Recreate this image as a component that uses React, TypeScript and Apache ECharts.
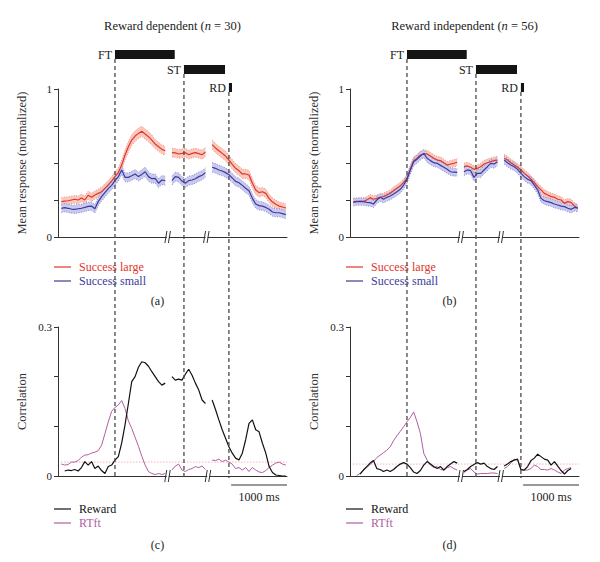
import React, { useEffect, useRef } from 'react';
import * as echarts from 'echarts';

// ---- data (time in ms from the start of each axis; 60 ms sampling; null = axis break) ----
const STEP_MS = 60;
const AXIS_MAX_MS = 4100;

const largeA = [0.239,0.243,0.245,0.25,0.255,0.25,0.264,0.25,0.282,0.268,
  0.284,0.295,0.306,0.329,0.351,0.378,0.408,0.435,0.486,0.554,
  0.61,0.655,0.682,0.7,0.714,0.696,0.678,0.655,0.628,0.61,
  0.592,0.583,null,0.57,0.568,0.561,0.565,0.57,0.556,0.565,
  0.57,0.563,0.556,0.574,null,0.624,0.601,0.583,0.565,0.547,
  0.52,0.491,0.464,0.448,0.426,0.426,0.419,0.363,0.318,0.3,
  0.306,0.295,0.261,0.236,0.221,0.209,0.203,0.196];
const smallA = [0.194,0.198,0.194,0.189,0.187,0.191,0.194,0.2,0.207,0.209,
  0.191,0.239,0.273,0.3,0.327,0.349,0.381,0.408,0.453,0.403,
  0.403,0.414,0.426,0.408,0.423,0.441,0.408,0.394,0.396,0.363,
  0.385,0.381,null,0.381,0.408,0.403,0.378,0.363,0.381,0.385,
  0.394,0.408,0.417,0.435,null,0.471,0.464,0.453,0.446,0.435,
  0.421,0.399,0.376,0.367,0.349,0.329,0.313,0.261,0.223,0.212,
  0.209,0.2,0.187,0.169,0.164,0.164,0.158,0.151];
const largeB = [0.239,0.241,0.243,0.241,0.25,0.266,0.255,0.261,0.268,0.273,
  0.284,0.295,0.313,0.329,0.345,0.367,0.396,0.457,0.516,0.532,
  0.554,0.561,0.561,0.547,0.532,0.52,0.516,0.502,0.486,0.493,
  0.498,0.505,null,0.475,0.48,0.471,0.457,0.464,0.475,0.493,
  0.502,0.509,0.516,0.52,null,0.532,0.52,0.502,0.486,0.471,
  0.453,0.43,0.412,0.39,0.367,0.34,0.318,0.295,0.284,0.273,
  0.268,0.255,0.25,0.227,0.239,0.232,0.209,0.194];
const smallB = [0.234,0.239,0.239,0.239,0.234,0.232,0.223,0.25,0.268,0.255,
  0.268,0.277,0.291,0.306,0.322,0.351,0.39,0.453,0.509,0.525,
  0.547,0.565,0.532,0.516,0.502,0.498,0.484,0.471,0.457,0.441,
  0.439,0.437,null,0.441,0.453,0.448,0.403,0.43,0.43,0.453,
  0.475,0.498,0.493,0.509,null,0.52,0.502,0.486,0.475,0.457,
  0.43,0.408,0.39,0.381,0.351,0.318,0.261,0.245,0.239,0.232,
  0.223,0.216,0.209,0.205,0.194,0.187,0.2,0.194];

// SEM, one value per 4 samples
const semLargeA = [0.026,0.026,0.027,0.03,0.032,0.035,0.034,0.03,0.029,0.029,0.03,0.031,0.032,0.031,0.03,0.028,0.027];
const semSmallA = [0.028,0.028,0.028,0.03,0.03,0.03,0.031,0.03,0.03,0.03,0.031,0.032,0.031,0.03,0.029,0.028,0.027];
const semLargeB = [0.022,0.022,0.023,0.024,0.025,0.025,0.024,0.024,0.024,0.024,0.025,0.025,0.025,0.024,0.024,0.023,0.022];
const semSmallB = [0.024,0.024,0.025,0.026,0.027,0.027,0.026,0.026,0.026,0.027,0.027,0.027,0.026,0.026,0.025,0.025,0.024];

const rewardC = [null,0.010,0.012,0.011,0.013,0.010,0.017,0.029,0.022,0.029,
  0.015,0.020,0.011,0.005,0.019,0.022,0.032,0.039,0.066,0.103,
  0.146,0.190,0.200,0.219,0.230,0.228,0.221,0.210,0.200,0.190,
  0.183,0.187,null,0.200,0.193,0.195,0.193,0.205,0.215,0.203,
  0.187,0.173,0.153,0.146,null,0.153,0.134,0.113,0.093,0.076,
  0.059,0.046,0.036,0.032,0.046,0.073,0.106,0.113,0.093,0.089,
  0.066,0.046,0.019,0.007,0.002,0.001,0,0];
const rtC = [0.024,0.022,0.023,0.028,0.028,0.031,0.038,0.042,0.043,0.046,
  0.048,0.051,0.062,0.085,0.109,0.130,0.138,0.143,0.152,0.136,
  0.111,0.096,0.078,0.060,0.040,0.022,0.009,0.005,0.003,0.005,
  0.003,0.005,null,0.012,0.020,0.024,0.012,0.009,0.013,0.015,
  0.019,0.017,0.020,0.013,null,0.032,0.031,0.034,0.029,0.032,
  0.028,0.024,0.015,0.017,0.012,0.017,0.009,0.017,0.012,0.008,
  0.007,0.011,0.017,0.022,0.026,0.028,0.024,0.022];
const rewardD = [null,null,0.004,0.012,0.019,0.026,0.031,0.015,0.013,0.009,
  0.012,0.009,0.013,0.019,0.024,0.027,0.024,0.017,0.008,0.005,
  0.011,0.022,0.029,0.024,0.019,0.015,0.019,0.012,0.019,0.024,
  0.029,0.026,null,0.009,0.013,0.019,0.023,0.027,0.024,0.026,
  0.019,0.015,0.013,0.019,null,0.020,0.024,0.029,0.032,0.034,
  0.013,0.012,0.019,0.031,0.036,0.044,0.039,0.034,0.032,0.022,
  0.029,0.020,0.011,0.004,0.011,0.015,null,null];
const rtD = [null,0.001,0.005,0.012,0.017,0.023,0.029,0.037,0.042,0.047,
  0.052,0.059,0.071,0.081,0.090,0.099,0.109,0.118,0.129,0.109,
  0.086,0.046,0.032,0.022,0.017,0.019,0.013,0.012,0.017,0.019,
  0.015,0.012,null,0.007,0.012,0.015,0.008,0.004,0.005,0.005,
  0.005,0.006,0.006,0.005,null,0.015,0.019,0.026,0.034,0.032,
  0.013,0.012,0.012,0.015,0.022,0.019,0.013,0.013,0.012,0.015,
  0.012,0.008,0.005,0.012,0.015,0.017,null,null];

const thresholdC = 0.028;
const thresholdD = 0.024;

const eventNames = ['FT', 'ST', 'RD'];
const eventStart = [1020, 2255, 3060];
const eventDur = [1070, 735, 55];
const breaksTop = [[1968, 2660], [1987, 2703]];
const breaksBottom = [[1965, 2690], [1987, 2703]];
const scaleBarStart = 3100;
const scaleBarMs = 1000;

// ---- styles ----
const SERIF = 'Liberation Serif';
const RED = '#e2352b';
const BLUE = '#3c3c98';
const PURPLE = '#b25ea3';
const BLACK = '#111111';
const RED_FILL = '#f9c9bd';
const RED_EDGE = '#f08a7a';
const BLUE_FILL = '#c9c9ef';
const BLUE_EDGE = '#8585d6';
const AXIS = '#333333';

const times = largeA.map((_, k) => STEP_MS * (k + 1));
const pairs = (vals: (number | null)[]) => vals.map((v, k) => [times[k], v == null ? '-' : v]);

function segments(vals: (number | null)[]) {
  const segs: number[][] = [];
  let cur: number[] = [];
  vals.forEach((v, k) => {
    if (v == null) { if (cur.length) segs.push(cur); cur = []; } else cur.push(k);
  });
  if (cur.length) segs.push(cur);
  return segs;
}

function band(id: string, vals: (number | null)[], sems: number[], g: number, fill: string, edge: string) {
  const segs = segments(vals);
  const sem = (k: number) => sems[Math.floor(k / 4)];
  return {
    type: 'custom', name: id, xAxisIndex: g, yAxisIndex: g, silent: true,
    data: segs.map((s) => [times[s[0]], vals[s[0]] as number]),
    renderItem: (params: any, api: any) => {
      const s = segs[params.dataIndex];
      const up = s.map((k) => api.coord([times[k], (vals[k] as number) + sem(k)]));
      const lo = s.map((k) => api.coord([times[k], (vals[k] as number) - sem(k)]));
      return {
        type: 'group',
        children: [
          { type: 'polygon', shape: { points: [...up, ...lo.slice().reverse()] }, style: { fill } },
          { type: 'polyline', shape: { points: up }, style: { stroke: edge, lineWidth: 1, lineDash: [1, 1.5], fill: null } },
          { type: 'polyline', shape: { points: lo }, style: { stroke: edge, lineWidth: 1, lineDash: [1, 1.5], fill: null } },
        ],
      };
    },
  };
}

function meanLine(name: string, vals: (number | null)[], g: number, color: string, width = 1.2) {
  return {
    type: 'line', name, xAxisIndex: g, yAxisIndex: g, symbol: 'none', silent: true,
    data: pairs(vals), lineStyle: { color, width }, itemStyle: { color },
  };
}

function thresholdLine(v: number, g: number) {
  return {
    type: 'line', name: 'thr' + g, xAxisIndex: g, yAxisIndex: g, symbol: 'none', silent: true,
    data: [[STEP_MS, v], [AXIS_MAX_MS, v]], lineStyle: { color: '#ee8f8f', width: 1, type: [1, 2] },
  };
}

const grids = [
  { left: 58, top: 89, width: 229, height: 148 },
  { left: 350, top: 89, width: 229, height: 148 },
  { left: 58, top: 327, width: 229, height: 149 },
  { left: 350, top: 327, width: 229, height: 149 },
];

function yAxis(g: number) {
  const top = g < 2;
  return {
    gridIndex: g, type: 'value', min: 0, max: top ? 1 : 0.3, interval: top ? 0.25 : 0.1,
    axisLine: { show: true, lineStyle: { color: AXIS, width: 1 } },
    axisTick: { show: true, length: 4, lineStyle: { color: AXIS } },
    splitLine: { show: false },
    axisLabel: {
      margin: 6, fontFamily: SERIF, fontSize: 11, color: '#222',
      formatter: (v: number) => {
        if (Math.abs(v) < 1e-9) return '0';
        if (top && Math.abs(v - 1) < 1e-9) return '1';
        if (!top && Math.abs(v - 0.3) < 1e-9) return '0.3';
        return '';
      },
    },
    name: top ? 'Mean response (normalized)' : 'Correlation',
    nameLocation: 'middle', nameGap: 30,
    nameTextStyle: { fontFamily: SERIF, fontSize: 12.5, color: '#333' },
  };
}

function xAxis(g: number) {
  return {
    gridIndex: g, type: 'value', min: 0, max: AXIS_MAX_MS,
    axisLine: { show: true, onZero: false, lineStyle: { color: AXIS, width: 1 } },
    axisTick: { show: false }, axisLabel: { show: false }, splitLine: { show: false },
  };
}

function legend(left: number, top: number, items: [string, string][]) {
  return {
    left, top, orient: 'vertical', icon: 'rect', itemWidth: 17, itemHeight: 1.2, itemGap: 2,
    padding: 0, selectedMode: false,
    itemStyle: { borderWidth: 0 },
    lineStyle: { width: 0 },
    textStyle: { fontFamily: SERIF, fontSize: 12, lineHeight: 12, padding: [0, 0, 0, 3] },
    data: items.map(([name, color]) => ({ name, textStyle: { color } })),
  };
}

const baseOption = {
  animation: false,
  grid: grids,
  xAxis: [0, 1, 2, 3].map(xAxis),
  yAxis: [0, 1, 2, 3].map(yAxis),
  legend: [
    legend(54, 261, [['Success large', RED], ['Success small', BLUE]]),
    legend(346, 261, [['Success large', RED], ['Success small', BLUE]]),
    legend(54, 503, [['Reward', BLACK], ['RTft', PURPLE]]),
    legend(346, 503, [['Reward', BLACK], ['RTft', PURPLE]]),
  ],
  series: [
    band('largeA', largeA, semLargeA, 0, RED_FILL, RED_EDGE),
    band('smallA', smallA, semSmallA, 0, BLUE_FILL, BLUE_EDGE),
    meanLine('Success large', largeA, 0, RED),
    meanLine('Success small', smallA, 0, BLUE),
    band('largeB', largeB, semLargeB, 1, RED_FILL, RED_EDGE),
    meanLine('Success large', largeB, 1, RED),
    band('smallB', smallB, semSmallB, 1, BLUE_FILL, BLUE_EDGE),
    meanLine('Success small', smallB, 1, BLUE),
    thresholdLine(thresholdC, 2),
    meanLine('RTft', rtC, 2, PURPLE, 1),
    meanLine('Reward', rewardC, 2, BLACK, 1.2),
    thresholdLine(thresholdD, 3),
    meanLine('RTft', rtD, 3, PURPLE, 1),
    meanLine('Reward', rewardD, 3, BLACK, 1.2),
  ],
};

const BAR_TOP = [50, 65, 83];
const BAR_H = 9;

export default function App() {
  const ref = useRef<HTMLDivElement>(null);
  useEffect(() => {
    const chart = echarts.init(ref.current!, null, { renderer: 'svg' });
    chart.setOption(baseOption as any);
    const px = (g: number, t: number, v: number) => chart.convertToPixel({ gridIndex: g }, [t, v]) as number[];
    const gfx: any[] = [];
    const font = (s: number) => `${s}px "${SERIF}"`;

    const titles = [['Reward dependent (', '30)'], ['Reward independent (', '56)']];
    [[0, 2], [1, 3]].forEach(([gt, gb], col) => {
      const cx = (px(gt, 0, 0)[0] + px(gt, AXIS_MAX_MS, 0)[0]) / 2;
      gfx.push({
        type: 'text', x: cx, y: 26,
        style: {
          text: `{a|${titles[col][0]}}{i|n}{a| = ${titles[col][1]}}`,
          align: 'center', verticalAlign: 'middle',
          rich: {
            a: { fontFamily: SERIF, fontSize: 12.5, fill: '#222' },
            i: { fontFamily: SERIF, fontSize: 12.5, fontStyle: 'italic', fill: '#222' },
          },
        },
      });
      const yBottom = px(gb, 0, 0)[1];
      eventNames.forEach((name, i) => {
        const x0 = px(gt, eventStart[i], 0)[0];
        const x1 = px(gt, eventStart[i] + eventDur[i], 0)[0];
        gfx.push({ type: 'rect', shape: { x: x0, y: BAR_TOP[i], width: x1 - x0, height: BAR_H }, style: { fill: '#141414' } });
        gfx.push({ type: 'text', x: x0 - 3, y: BAR_TOP[i] + BAR_H / 2 + 0.5, style: { text: name, align: 'right', verticalAlign: 'middle', font: font(12), fill: '#222' } });
        gfx.push({ type: 'line', z: 10, shape: { x1: x0, y1: BAR_TOP[i] + BAR_H, x2: x0, y2: yBottom + 2 }, style: { stroke: '#4a4a4a', lineWidth: 1.3, lineDash: [4, 3] } });
      });
      const br = [breaksTop[col], breaksBottom[col]];
      [gt, gb].forEach((g, j) => {
        br[j].forEach((t) => {
          const [x, y] = px(g, t, 0);
          gfx.push({ type: 'rect', z: 11, shape: { x: x - 1, y: y - 1, width: 2, height: 2 }, style: { fill: '#fff' } });
          gfx.push({ type: 'line', z: 12, shape: { x1: x - 3, y1: y + 6, x2: x - 1, y2: y - 6 }, style: { stroke: '#333', lineWidth: 1 } });
          gfx.push({ type: 'line', z: 12, shape: { x1: x + 0.5, y1: y + 6, x2: x + 2.5, y2: y - 6 }, style: { stroke: '#333', lineWidth: 1 } });
        });
      });
      const [sx0, sy] = px(gb, scaleBarStart, 0);
      const sx1 = px(gb, scaleBarStart + scaleBarMs, 0)[0];
      gfx.push({ type: 'line', shape: { x1: sx0, y1: sy + 9, x2: sx1, y2: sy + 9 }, style: { stroke: '#333', lineWidth: 1 } });
      gfx.push({ type: 'text', x: (sx0 + sx1) / 2, y: sy + 21, style: { text: `${scaleBarMs} ms`, align: 'center', verticalAlign: 'middle', font: font(12), fill: '#222' } });
      const letters = col === 0 ? ['(a)', '(c)'] : ['(b)', '(d)'];
      gfx.push({ type: 'text', x: cx - 15, y: 301, style: { text: letters[0], align: 'center', verticalAlign: 'middle', font: font(12), fill: '#222' } });
      gfx.push({ type: 'text', x: cx - 15, y: 545, style: { text: letters[1], align: 'center', verticalAlign: 'middle', font: font(12), fill: '#222' } });
    });
    chart.setOption({ graphic: gfx } as any);
    return () => chart.dispose();
  }, []);
  return <div ref={ref} style={{ position: 'absolute', left: 0, top: 0, width: 600, height: 562, background: '#fff' }} />;
}
